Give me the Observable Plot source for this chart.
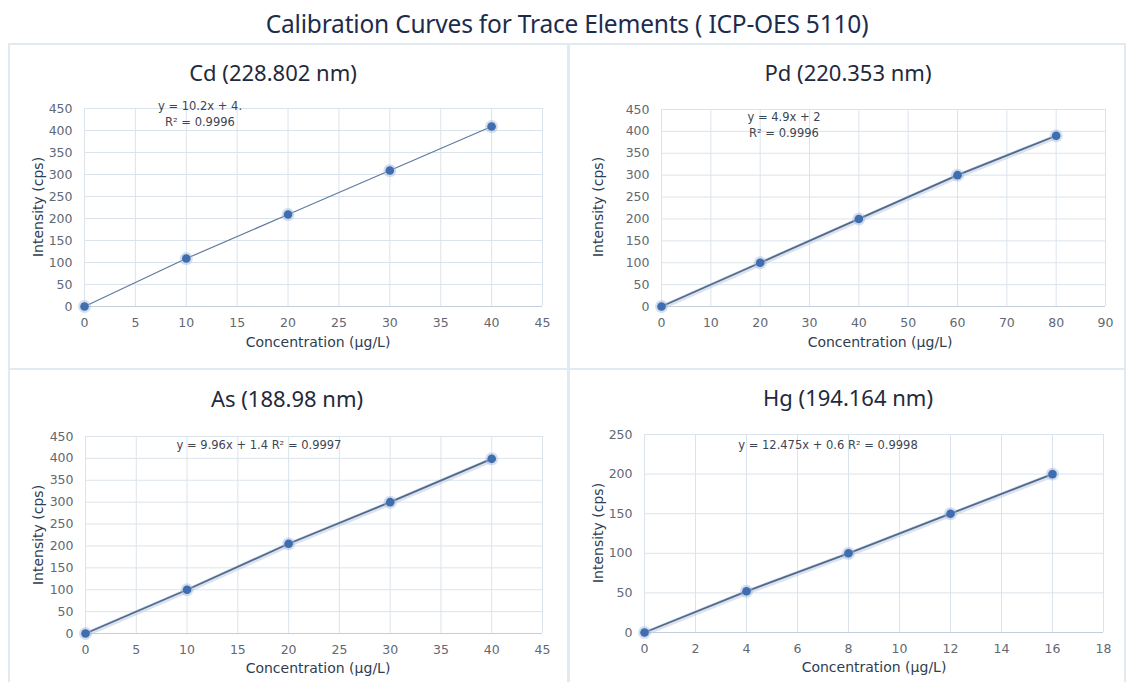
<!DOCTYPE html>
<html>
<head>
<meta charset="utf-8">
<script src="https://cdn.jsdelivr.net/npm/d3@7"></script>
<script src="https://cdn.jsdelivr.net/npm/@observablehq/plot@0.6"></script>
<style>
  html, body { margin: 0; padding: 0; background: #fff; }
  #root { position: relative; width: 1126px; height: 682px; overflow: hidden; background: #fff; font-family: "Noto Sans", sans-serif; }
  .line { position: absolute; background: #e2eaf1; }
  .main-title { position: absolute; left: 0; width: 1134px; top: 7px; text-align: center; font-size: 24.5px; color: #1c2c4c; letter-spacing: -0.2px; }
  .ptitle { position: absolute; text-align: center; font-size: 22px; color: #1f2a3c; transform: translateX(-50%); white-space: nowrap; }
  .xlabel { position: absolute; font-family: "DejaVu Sans", sans-serif; font-size: 14px; color: #2e3d52; transform: translateX(-50%); white-space: nowrap; }
  .ylabel { position: absolute; font-family: "DejaVu Sans", sans-serif; font-size: 14px; color: #2e3d52; transform: translate(-50%, -50%) rotate(-90deg); white-space: nowrap; }
  .eq { position: absolute; font-family: "DejaVu Sans", sans-serif; font-size: 11.5px; color: #3d4552; transform: translateX(-50%); white-space: nowrap; text-align: center; line-height: 16px; }
</style>
</head>
<body>
<div id="root"></div>
<script>
// ---------- DATA ----------
const cdConc = [0, 10, 20, 30, 40];
const cdIntensity = [0, 109, 209, 309, 409];
const cdXTicks = [0, 5, 10, 15, 20, 25, 30, 35, 40, 45];
const cdYTicks = [0, 50, 100, 150, 200, 250, 300, 350, 400, 450];

const pdConc = [0, 20, 40, 60, 80];
const pdIntensity = [0, 100, 200, 300, 390];
const pdXTicks = [0, 10, 20, 30, 40, 50, 60, 70, 80, 90];
const pdYTicks = [0, 50, 100, 150, 200, 250, 300, 350, 400, 450];

const asConc = [0, 10, 20, 30, 40];
const asIntensity = [0, 100, 205, 300, 399];
const asXTicks = [0, 5, 10, 15, 20, 25, 30, 35, 40, 45];
const asYTicks = [0, 50, 100, 150, 200, 250, 300, 350, 400, 450];

const hgConc = [0, 4, 8, 12, 16];
const hgIntensity = [0, 52, 100, 150, 200];
const hgXTicks = [0, 2, 4, 6, 8, 10, 12, 14, 16, 18];
const hgYTicks = [0, 50, 100, 150, 200, 250];

const panelTitles = ["Cd (228.802 nm)", "Pd (220.353 nm)", "As (188.98 nm)", "Hg (194.164 nm)"];
const equations = [
  ["y = 10.2x + 4.", "R\u00B2 = 0.9996"],
  ["y = 4.9x + 2", "R\u00B2 = 0.9996"],
  ["y = 9.96x + 1.4 R\u00B2 = 0.9997"],
  ["y = 12.475x + 0.6 R\u00B2 = 0.9998"]
];
const mainTitle = "Calibration Curves for Trace Elements ( ICP-OES 5110)";
const xAxisLabel = "Concentration (\u00B5g/L)";
const yAxisLabel = "Intensity (cps)";

// ---------- LAYOUT ----------
const root = document.getElementById("root");
function div(cls, styles, text) {
  const d = document.createElement("div");
  d.className = cls;
  Object.assign(d.style, styles);
  if (text != null) d.textContent = text;
  root.appendChild(d);
  return d;
}

// frame lines
div("line", {left: "8px", top: "43px", width: "1118px", height: "2px"});
div("line", {left: "8px", top: "43px", width: "2px", height: "639px"});
div("line", {left: "567px", top: "44px", width: "3px", height: "638px"});
div("line", {left: "8px", top: "368px", width: "1118px", height: "2px"});
div("line", {left: "1124px", top: "43px", width: "2px", height: "639px"});

div("main-title", {}, mainTitle);

const panels = [
  {conc: cdConc, inten: cdIntensity, xt: cdXTicks, yt: cdYTicks, left: 0, top: 95, w: 568, h: 270,
   ml: 84, mr: 26, mt: 13, mb: 59, title: panelTitles[0], tx: 273, ty: 57, eq: equations[0], ex: 200, ey: 98,
   xl: 318, xly: 334, yl: 38, yly: 207, shadow: false},
  {conc: pdConc, inten: pdIntensity, xt: pdXTicks, yt: pdYTicks, left: 568, top: 95, w: 558, h: 270,
   ml: 93, mr: 21, mt: 14, mb: 59, title: panelTitles[1], tx: 848, ty: 57, eq: equations[1], ex: 784, ey: 109,
   xl: 880, xly: 334, yl: 598, yly: 207, shadow: true},
  {conc: asConc, inten: asIntensity, xt: asXTicks, yt: asYTicks, left: 0, top: 420, w: 568, h: 262,
   ml: 85, mr: 26, mt: 16, mb: 49, title: panelTitles[2], tx: 287, ty: 383, eq: equations[2], ex: 259, ey: 437,
   xl: 318, xly: 660, yl: 38, yly: 535, shadow: true},
  {conc: hgConc, inten: hgIntensity, xt: hgXTicks, yt: hgYTicks, left: 568, top: 420, w: 558, h: 262,
   ml: 76, mr: 23, mt: 14, mb: 50, title: panelTitles[3], tx: 848, ty: 382, eq: equations[3], ex: 828, ey: 437,
   xl: 874, xly: 659, yl: 598, yly: 533, shadow: true}
];

for (const p of panels) {
  const data = p.conc.map((c, i) => ({conc: c, intensity: p.inten[i]}));
  const xmax = p.xt[p.xt.length - 1], ymax = p.yt[p.yt.length - 1];
  const marks = [
    Plot.ruleX(p.xt, {stroke: "#dbe4ec", strokeWidth: 1}),
    Plot.ruleY(p.yt, {stroke: "#dbe4ec", strokeWidth: 1}),
    Plot.ruleY([0], {stroke: "#c3cfda", strokeWidth: 1.2}),
    Plot.axisX({ticks: p.xt, tickSize: 0, tickPadding: 12, label: null, fontSize: 12.5, fill: "#5f6873"}),
    Plot.axisY({ticks: p.yt, tickSize: 0, tickPadding: 12, label: null, fontSize: 12.5, fill: "#5f6873"})
  ];
  if (p.shadow) {
    marks.push(Plot.line(data, {x: "conc", y: "intensity", stroke: "#b9cbe0", strokeWidth: 5, strokeOpacity: 0.55, dy: 1}));
  }
  marks.push(Plot.line(data, {x: "conc", y: "intensity", stroke: p.shadow ? "#516a8c" : "#5f7a9c", strokeWidth: p.shadow ? 1.8 : 1.2}));
  marks.push(Plot.dot(data, {x: "conc", y: "intensity", r: 6.5, fill: "#9db8dc", fillOpacity: 0.45, stroke: "none"}));
  marks.push(Plot.dot(data, {x: "conc", y: "intensity", r: 4.3, fill: "#3f6db0", stroke: "none"}));

  const svg = Plot.plot({
    width: p.w, height: p.h,
    marginLeft: p.ml, marginRight: p.mr, marginTop: p.mt, marginBottom: p.mb,
    style: {background: "transparent", fontFamily: "DejaVu Sans, sans-serif", overflow: "visible"},
    x: {domain: [0, xmax]},
    y: {domain: [0, ymax]},
    marks
  });
  svg.style.position = "absolute";
  svg.style.left = p.left + "px";
  svg.style.top = p.top + "px";
  root.appendChild(svg);

  div("ptitle", {left: p.tx + "px", top: p.ty + "px"}, p.title);
  const e = div("eq", {left: p.ex + "px", top: p.ey + "px"});
  e.innerHTML = p.eq.join("<br>");
  div("xlabel", {left: p.xl + "px", top: p.xly + "px"}, xAxisLabel);
  div("ylabel", {left: p.yl + "px", top: p.yly + "px"}, yAxisLabel);
}
</script>
</body>
</html>
